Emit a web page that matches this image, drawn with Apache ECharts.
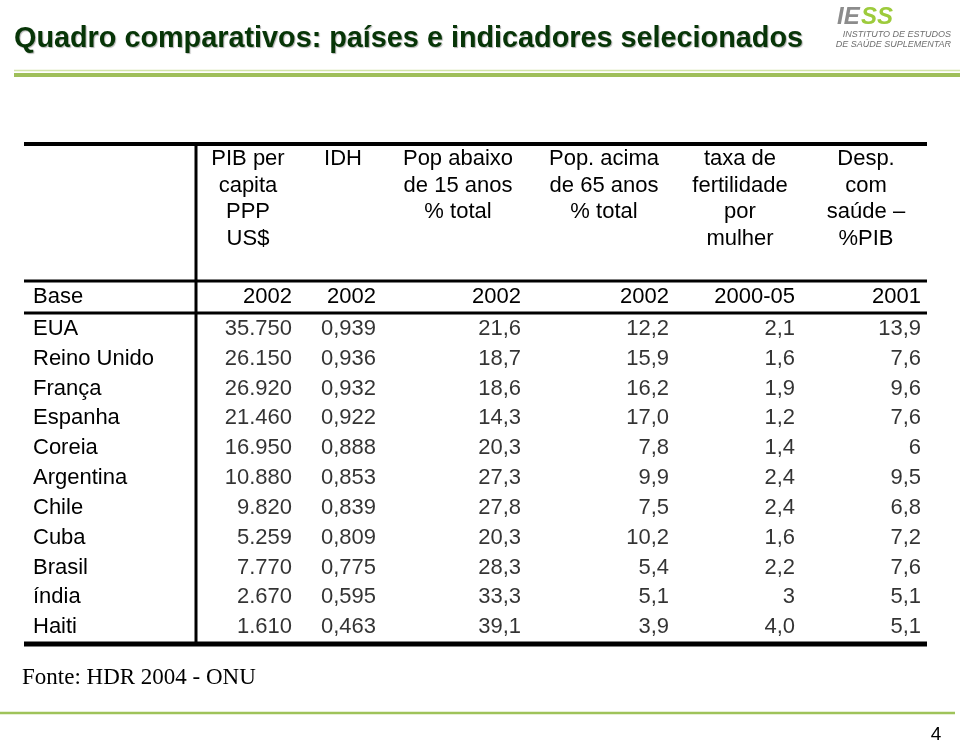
<!DOCTYPE html>
<html>
<head>
<meta charset="utf-8">
<script src="https://cdn.jsdelivr.net/npm/echarts@6/dist/echarts.min.js"></script>
<style>
html,body{margin:0;padding:0;background:#fff;}
#chart{width:960px;height:741px;}
</style>
</head>
<body>
<div id="chart"></div>
<script>
// ---------- DATA ----------
var titleText = 'Quadro comparativos: países e indicadores selecionados';
var sourceText = 'Fonte: HDR 2004 - ONU';
var pageNumber = '4';
var countries = ['EUA','Reino Unido','França','Espanha','Coreia','Argentina','Chile','Cuba','Brasil','índia','Haiti'];
var headers = [
  ['PIB per','capita','PPP','US$'],
  ['IDH'],
  ['Pop abaixo','de 15 anos','% total'],
  ['Pop. acima','de 65 anos','% total'],
  ['taxa de','fertilidade','por','mulher'],
  ['Desp.','com','saúde –','%PIB']
];
var baseLabel = 'Base';
var baseYears = ['2002','2002','2002','2002','2000-05','2001'];
var pibPerCapita = [35750, 26150, 26920, 21460, 16950, 10880, 9820, 5259, 7770, 2670, 1610];
var idh = [0.939, 0.936, 0.932, 0.922, 0.888, 0.853, 0.839, 0.809, 0.775, 0.595, 0.463];
var popBelow15 = [21.6, 18.7, 18.6, 14.3, 20.3, 27.3, 27.8, 20.3, 28.3, 33.3, 39.1];
var popAbove65 = [12.2, 15.9, 16.2, 17.0, 7.8, 9.9, 7.5, 10.2, 5.4, 5.1, 3.9];
var fertility = ['2,1','1,6','1,9','1,2','1,4','2,4','2,4','1,6','2,2','3','4,0'];
var healthSpend = ['13,9','7,6','9,6','7,6','6','9,5','6,8','7,2','7,6','5,1','5,1'];

// ---------- FORMATTERS ----------
function fmtThousands(v){ return String(v).replace(/\B(?=(\d{3})+(?!\d))/g, '.'); }
function fmtDec(d){ return function(v){ return v.toFixed(d).replace('.', ','); }; }
function asIs(v){ return String(v); }

var columns = [
  {values: pibPerCapita, fmt: fmtThousands},
  {values: idh, fmt: fmtDec(3)},
  {values: popBelow15, fmt: fmtDec(1)},
  {values: popAbove65, fmt: fmtDec(1)},
  {values: fertility, fmt: asIs},
  {values: healthSpend, fmt: asIs}
];

// ---------- LAYOUT (pixels) ----------
var tableLeft = 24, tableRight = 927, divX = 196;
var topY = 144, headLineY = 281, baseLineY = 313, bottomY = 644;
var colRight = [292, 376, 521, 669, 795, 921];      // right edge of values
var colCenter = [248, 343, 458, 604, 740, 866];     // header centers
var headerTop = 159, headerStep = 26.6, baseRowY = 297;
var FONT = '"Liberation Sans", Arial, sans-serif';
var fs = 22;

var chart = echarts.init(document.getElementById('chart'), null, {renderer:'canvas'});

var series = columns.map(function(col, k){
  return {
    type: 'scatter',
    silent: true,
    symbolSize: 0,
    animation: false,
    data: countries.map(function(c, i){
      return {value: [colRight[k] - divX, c], name: col.fmt(col.values[i])};
    }),
    label: {
      show: true, position: 'left', distance: 0,
      formatter: function(p){ return p.name; },
      color: '#000', fontSize: fs, fontFamily: FONT
    }
  };
});

var graphics = [];
function line(x1,y1,x2,y2,w,color){
  graphics.push({type:'line', silent:true, shape:{x1:x1,y1:y1,x2:x2,y2:y2}, style:{stroke:color||'#000', lineWidth:w}});
}
function text(x,y,t,opts){
  var st = Object.assign({text:t, fill:'#000', font: fs+'px '+FONT, textAlign:'left', textVerticalAlign:'middle'}, opts||{});
  graphics.push({type:'text', silent:true, x:x, y:y, style:st});
}
// green header rule
line(14, 70.5, 960, 70.5, 1.5, '#d3e4a8');
line(14, 75, 960, 75, 4, '#9fbf5a');
// bottom green rule
line(0, 713, 955, 713, 2.5, '#9fc35a');
// table borders
line(tableLeft, topY, tableRight, topY, 4);
line(divX, topY, divX, bottomY, 3);
line(tableLeft, headLineY, tableRight, headLineY, 3);
line(tableLeft, baseLineY, tableRight, baseLineY, 3);
line(tableLeft, bottomY, tableRight, bottomY, 5);
// headers
headers.forEach(function(lines, k){
  lines.forEach(function(t, j){
    text(colCenter[k], headerTop + j*headerStep, t, {textAlign:'center'});
  });
});
// base row
text(33, baseRowY, baseLabel);
baseYears.forEach(function(t, k){ text(colRight[k], baseRowY, t, {textAlign:'right'}); });
// source
text(22, 678, sourceText, {font: '23px "Liberation Serif", "Times New Roman", serif'});
// page number
text(936, 735, pageNumber, {textAlign:'center', font: '19px '+FONT});
// logo
text(837, 17, 'IE', {font:'italic bold 24px '+FONT, fill:'#8c8c8c'});
text(861, 17, 'SS', {font:'italic bold 24px '+FONT, fill:'#9dcb3c'});
text(951, 34, 'INSTITUTO DE ESTUDOS', {textAlign:'right', font:'italic 9px '+FONT, fill:'#6f6f6f'});
text(951, 44, 'DE SAÚDE SUPLEMENTAR', {textAlign:'right', font:'italic 9px '+FONT, fill:'#6f6f6f'});

chart.setOption({
  animation: false,
  backgroundColor: '#fff',
  title: {
    text: titleText, left: 9, top: 20,
    textStyle: {
      fontFamily: FONT, fontWeight: 'bold', fontSize: 28.8, color: '#073507',
      textShadowColor: 'rgba(0,0,0,0.3)', textShadowOffsetX: 1, textShadowOffsetY: 1, textShadowBlur: 1
    }
  },
  grid: {left: divX, right: 960 - tableRight, top: baseLineY + 1, bottom: 741 - 642},
  xAxis: {type:'value', min:0, max: tableRight - divX, show:false},
  yAxis: {
    type:'category', data: countries, inverse: true,
    axisLine:{show:false}, axisTick:{show:false}, splitLine:{show:false},
    axisLabel:{show:true, align:'left', margin: divX - 33, color:'#000', fontSize: fs, fontFamily: FONT}
  },
  series: series,
  graphic: graphics
});
</script>
</body>
</html>
